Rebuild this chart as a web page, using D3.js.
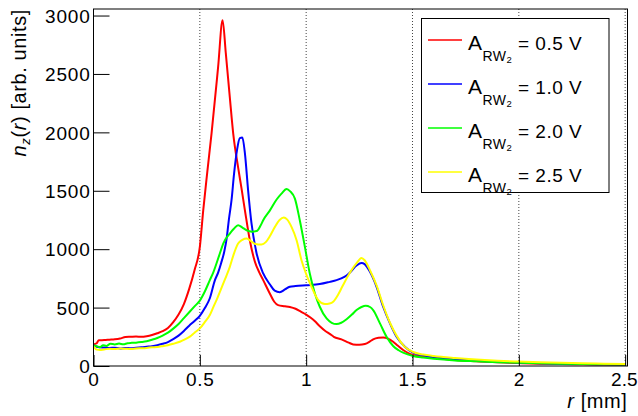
<!DOCTYPE html>
<html>
<head>
<meta charset="utf-8">
<script src="https://cdn.jsdelivr.net/npm/d3@7"></script>
<style>
  html, body { margin: 0; padding: 0; background: #fff; }
  svg { display: block; font-family: "Liberation Sans", Arial, Helvetica, sans-serif; }
</style>
</head>
<body>
<svg id="chart" width="638" height="416"></svg>
<script>
// ---- data (r in mm, n_z in arb. units) ----
const seriesLabels = ["0.5 V", "1.0 V", "2.0 V", "2.5 V"];
const seriesColors = ["#ff0000", "#0000ff", "#00ff00", "#ffff00"];

const red = [[0,185],[0.015,195],[0.025,220],[0.05,222],[0.075,225],[0.1,228],[0.125,235],[0.15,248],[0.175,250],[0.2,252],[0.225,250],[0.25,255],[0.275,265],[0.3,280],[0.325,298],[0.35,325],[0.375,375],[0.4,440],[0.425,530],[0.45,660],[0.475,820],[0.5,1020],[0.516,1333],[0.535,1660],[0.555,1990],[0.586,2560],[0.607,2960],[0.622,2680],[0.641,2300],[0.657,1990],[0.68,1700],[0.696,1520],[0.712,1333],[0.735,1077],[0.759,892],[0.78,800],[0.798,735],[0.829,621],[0.85,550],[0.868,521],[0.9,512],[0.923,505],[0.95,490],[0.975,465],[1.0,440],[1.02,415],[1.04,385],[1.064,340],[1.09,300],[1.111,275],[1.13,250],[1.166,228],[1.2,200],[1.221,185],[1.25,182],[1.276,188],[1.3,210],[1.315,228],[1.34,242],[1.362,245],[1.385,235],[1.409,208],[1.43,175],[1.456,137],[1.48,110],[1.503,94],[1.54,82],[1.582,74],[1.65,60],[1.7,52],[1.8,40],[1.9,32],[2.0,25],[2.1,20],[2.2,18],[2.3,15],[2.4,12],[2.5,10]];

const blue = [[0,179],[0.015,165],[0.03,160],[0.05,158],[0.075,155],[0.1,157],[0.125,150],[0.15,155],[0.175,152],[0.2,157],[0.225,160],[0.25,165],[0.275,170],[0.3,178],[0.325,190],[0.35,205],[0.375,230],[0.4,260],[0.425,300],[0.45,345],[0.475,385],[0.5,430],[0.525,500],[0.547,580],[0.571,735],[0.586,800],[0.6,880],[0.615,980],[0.626,1090],[0.637,1260],[0.649,1419],[0.661,1647],[0.675,1850],[0.688,1950],[0.7,1955],[0.712,1820],[0.727,1504],[0.743,1220],[0.767,963],[0.798,792],[0.829,700],[0.852,645],[0.876,632],[0.9,655],[0.923,678],[0.95,685],[1.0,692],[1.064,701],[1.111,720],[1.143,735],[1.165,750],[1.19,775],[1.206,800],[1.237,860],[1.26,882],[1.275,872],[1.3,806],[1.331,678],[1.362,507],[1.394,365],[1.425,250],[1.464,165],[1.503,114],[1.54,95],[1.582,80],[1.65,65],[1.7,58],[1.8,45],[1.9,37],[2.0,30],[2.1,24],[2.2,20],[2.3,17],[2.4,14],[2.5,12]];

const green = [[0,175],[0.015,170],[0.03,160],[0.045,178],[0.06,172],[0.08,190],[0.1,185],[0.12,192],[0.14,186],[0.16,195],[0.18,198],[0.2,200],[0.225,205],[0.25,212],[0.275,225],[0.3,240],[0.325,260],[0.35,285],[0.375,320],[0.4,360],[0.425,410],[0.45,460],[0.475,510],[0.5,560],[0.524,640],[0.547,735],[0.563,800],[0.594,963],[0.61,1048],[0.641,1134],[0.66,1175],[0.68,1205],[0.7,1185],[0.72,1162],[0.745,1150],[0.767,1155],[0.785,1200],[0.798,1248],[0.829,1330],[0.861,1425],[0.884,1476],[0.908,1515],[0.925,1495],[0.947,1433],[0.97,1248],[0.994,1020],[1.017,792],[1.041,621],[1.064,507],[1.096,407],[1.12,370],[1.143,359],[1.165,370],[1.19,400],[1.215,440],[1.237,479],[1.26,505],[1.28,516],[1.3,505],[1.315,479],[1.347,365],[1.378,250],[1.409,171],[1.435,135],[1.456,114],[1.503,85],[1.55,72],[1.6,62],[1.7,48],[1.8,40],[1.9,33],[2.0,28],[2.1,23],[2.2,20],[2.3,17],[2.4,14],[2.5,12]];

const yellow = [[0,165],[0.015,140],[0.03,137],[0.05,142],[0.075,148],[0.1,145],[0.125,150],[0.15,148],[0.175,145],[0.2,150],[0.225,152],[0.25,155],[0.275,160],[0.3,163],[0.325,170],[0.35,178],[0.375,190],[0.406,208],[0.43,228],[0.453,251],[0.475,285],[0.5,322],[0.525,380],[0.547,436],[0.565,510],[0.58,570],[0.6,660],[0.62,750],[0.641,849],[0.66,960],[0.68,1048],[0.7,1080],[0.72,1091],[0.74,1070],[0.76,1045],[0.79,1040],[0.81,1060],[0.829,1110],[0.853,1191],[0.875,1250],[0.895,1271],[0.91,1255],[0.931,1191],[0.955,1077],[0.978,906],[0.999,792],[1.025,678],[1.057,564],[1.088,530],[1.11,535],[1.127,550],[1.15,610],[1.17,680],[1.206,800],[1.237,880],[1.26,925],[1.275,905],[1.3,820],[1.331,690],[1.362,520],[1.394,370],[1.425,260],[1.46,170],[1.503,120],[1.55,98],[1.6,85],[1.7,68],[1.8,55],[1.9,45],[2.0,38],[2.1,32],[2.2,27],[2.3,23],[2.4,20],[2.5,18]];

const xTicks = [0, 0.5, 1, 1.5, 2, 2.5];
const xTickLabels = ["0", "0.5", "1", "1.5", "2", "2.5"];
const yTicks = [0, 500, 1000, 1500, 2000, 2500, 3000];
const yTickLabels = ["0", "500", "1000", "1500", "2000", "2500", "3000"];

// ---- layout ----
const svg = d3.select("#chart");
const L = 93.5, R = 627.5, T = 9, B = 366;
const x = d3.scaleLinear().domain([0, 2.511]).range([L, R]);
const y = d3.scaleLinear().domain([0, 3056]).range([B, T]);
const FS = 19;

// grid (dotted verticals)
svg.append("g").selectAll("line").data(xTicks.filter(d => d > 0)).join("line")
  .attr("x1", d => x(d)).attr("x2", d => x(d))
  .attr("y1", T).attr("y2", B)
  .attr("stroke", "#444").attr("stroke-width", 1)
  .attr("stroke-dasharray", "1,2");

// curves
const line = d3.line().x(d => x(d[0])).y(d => y(d[1])).curve(d3.curveMonotoneX);
const allSeries = [red, blue, green, yellow];
svg.append("g").selectAll("path").data(allSeries).join("path")
  .attr("d", line)
  .attr("fill", "none")
  .attr("stroke", (d, i) => seriesColors[i])
  .attr("stroke-width", 2)
  .attr("stroke-linejoin", "round");

// axes: y
const yMinor = d3.range(0, 3001, 100);
const gy = svg.append("g").attr("transform", `translate(${L},0)`);
gy.call(d3.axisLeft(y).tickValues(yMinor).tickSize(-8).tickFormat(""));
gy.call(d3.axisLeft(y).tickValues(yTicks).tickSize(-16).tickPadding(3)
  .tickFormat((d, i) => yTickLabels[i]));
gy.selectAll(".domain").remove();
gy.selectAll("text").attr("font-size", FS).attr("font-family", null)
  .attr("fill", "#000").attr("dy", "0.35em").style("letter-spacing", "0.8px");
gy.selectAll("line").attr("stroke", "#000");

// axes: x
const xMinor = d3.range(0, 2.51, 0.1);
const gx = svg.append("g").attr("transform", `translate(0,${B})`);
gx.call(d3.axisBottom(x).tickValues(xMinor).tickSize(-5.5).tickFormat(""));
gx.call(d3.axisBottom(x).tickValues(xTicks).tickSize(-11).tickPadding(7)
  .tickFormat((d, i) => xTickLabels[i]));
gx.selectAll(".domain").remove();
gx.selectAll("text").attr("font-size", FS).attr("font-family", null)
  .attr("fill", "#000").style("letter-spacing", "0.8px");
// keep the last label inside the window
gx.selectAll("text").filter(d => d === 2.5)
  .style("letter-spacing", "0px").attr("text-anchor", "end").attr("x", 637 - x(2.5));
gx.selectAll("line").attr("stroke", "#000");

// frame
svg.append("rect").attr("x", L).attr("y", T).attr("width", R - L).attr("height", B - T)
  .attr("fill", "none").attr("stroke", "#000").attr("stroke-width", 1);

// axis titles
const yt = svg.append("text")
  .attr("transform", `translate(26,${T}) rotate(-90)`)
  .attr("text-anchor", "end").attr("font-size", 20).style("letter-spacing", "0.6px");
yt.append("tspan").attr("font-style", "italic").text("n");
yt.append("tspan").attr("font-style", "italic").attr("font-size", 13).attr("dy", 4).text("z");
yt.append("tspan").attr("dy", -4).text("(");
yt.append("tspan").attr("font-style", "italic").text("r");
yt.append("tspan").text(") [arb. units]");

const xt = svg.append("text")
  .attr("x", R).attr("y", 408).attr("text-anchor", "end").attr("font-size", 20)
  .style("letter-spacing", "0.6px");
xt.append("tspan").attr("font-style", "italic").text("r");
xt.append("tspan").text(" [mm]");

// legend
const lg = svg.append("g");
lg.append("rect").attr("x", 421.5).attr("y", 18.5).attr("width", 187.5).attr("height", 174)
  .attr("fill", "#fff").attr("stroke", "#000").attr("stroke-width", 1);
const legendY = [40, 84, 128, 172];
seriesLabels.forEach((lab, i) => {
  const cy = legendY[i];
  lg.append("line").attr("x1", 428).attr("x2", 462).attr("y1", cy).attr("y2", cy)
    .attr("stroke", seriesColors[i]).attr("stroke-width", 1.5);
  const t = lg.append("text").attr("x", 468).attr("y", cy + 10).attr("font-size", 21)
    .style("letter-spacing", "0.5px");
  t.append("tspan").text("A");
  t.append("tspan").attr("font-size", 14).attr("dy", 11).text("RW");
  t.append("tspan").attr("font-size", 9.5).attr("dy", 2).text("2");
  t.append("tspan").attr("x", 518).attr("dy", -13).attr("font-size", 19).text("= " + lab);
});
</script>
</body>
</html>
